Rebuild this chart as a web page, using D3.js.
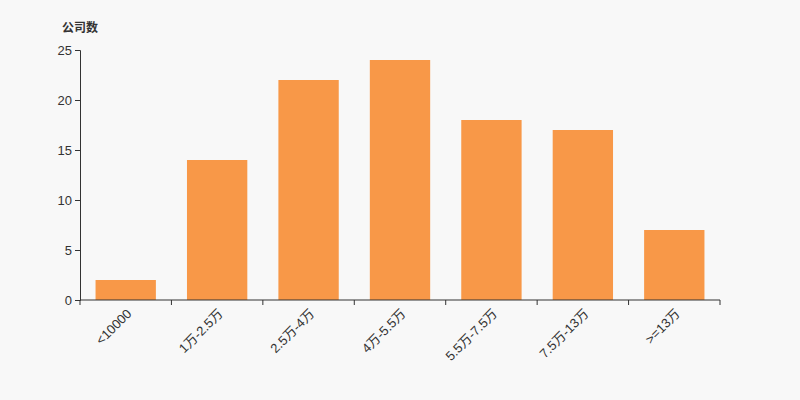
<!DOCTYPE html>
<html><head><meta charset="utf-8">
<script src="https://cdn.jsdelivr.net/npm/d3@7"></script>
<style>body{margin:0;background:#f8f8f8;}svg{display:block;}</style>
</head><body>
<svg id="c" width="800" height="400"></svg>
<script>
const categories = ["<10000","1万-2.5万","2.5万-4万","4万-5.5万","5.5万-7.5万","7.5万-13万",">=13万"];
const values = [2,14,22,24,18,17,7];
const yTicks = [0,5,10,15,20,25];
const yTitle = "公司数";

const svg = d3.select("#c");
svg.append("rect").attr("width",800).attr("height",400).attr("fill","#f8f8f8");
const m = {l:80, r:80, t:50, b:100};
const x = d3.scaleBand().domain(categories).range([m.l, 800-m.r]).paddingInner(0.34).paddingOuter(0.17);
const y = d3.scaleLinear().domain([0,25]).range([300,50]);
const font = "Arial,'Liberation Sans','Noto Sans CJK SC',sans-serif";

svg.append("g").selectAll("rect").data(values).join("rect")
  .attr("x",(d,i)=>x(categories[i])).attr("width",x.bandwidth())
  .attr("y",d=>y(d)).attr("height",d=>y(0)-y(d)).attr("fill","#f89848");

// y axis
const ya = svg.append("g").attr("transform",`translate(${m.l},0)`)
  .call(d3.axisLeft(y).tickValues(yTicks).tickSize(5).tickPadding(3));
ya.select(".domain").attr("stroke","#333");
ya.selectAll(".tick line").attr("stroke","#333");
ya.selectAll("text").attr("fill","#333").style("font-size","13px").style("font-family",font);

// x axis with boundary ticks
const xa = svg.append("g").attr("transform",`translate(0,${y(0)})`);
xa.append("line").attr("x1",m.l).attr("x2",800-m.r).attr("stroke","#333");
const bounds = d3.range(categories.length+1).map(i=>m.l + (800-m.l-m.r)*i/categories.length);
xa.selectAll("line.t").data(bounds).join("line").attr("class","t")
  .attr("x1",d=>d).attr("x2",d=>d).attr("y1",0).attr("y2",5).attr("stroke","#333");
xa.selectAll("text").data(categories).join("text")
  .attr("transform",d=>`translate(${x(d)+x.bandwidth()/2},${8}) rotate(-45)`)
  .attr("text-anchor","end").attr("dy","0.71em")
  .attr("fill","#333").style("font-size","13px").style("font-family",font)
  .text(d=>d);

svg.append("text").attr("x",62).attr("y",32).attr("fill","#333")
  .style("font-size","12px").style("font-weight","bold").style("font-family",font).text(yTitle);
</script>
</body></html>
